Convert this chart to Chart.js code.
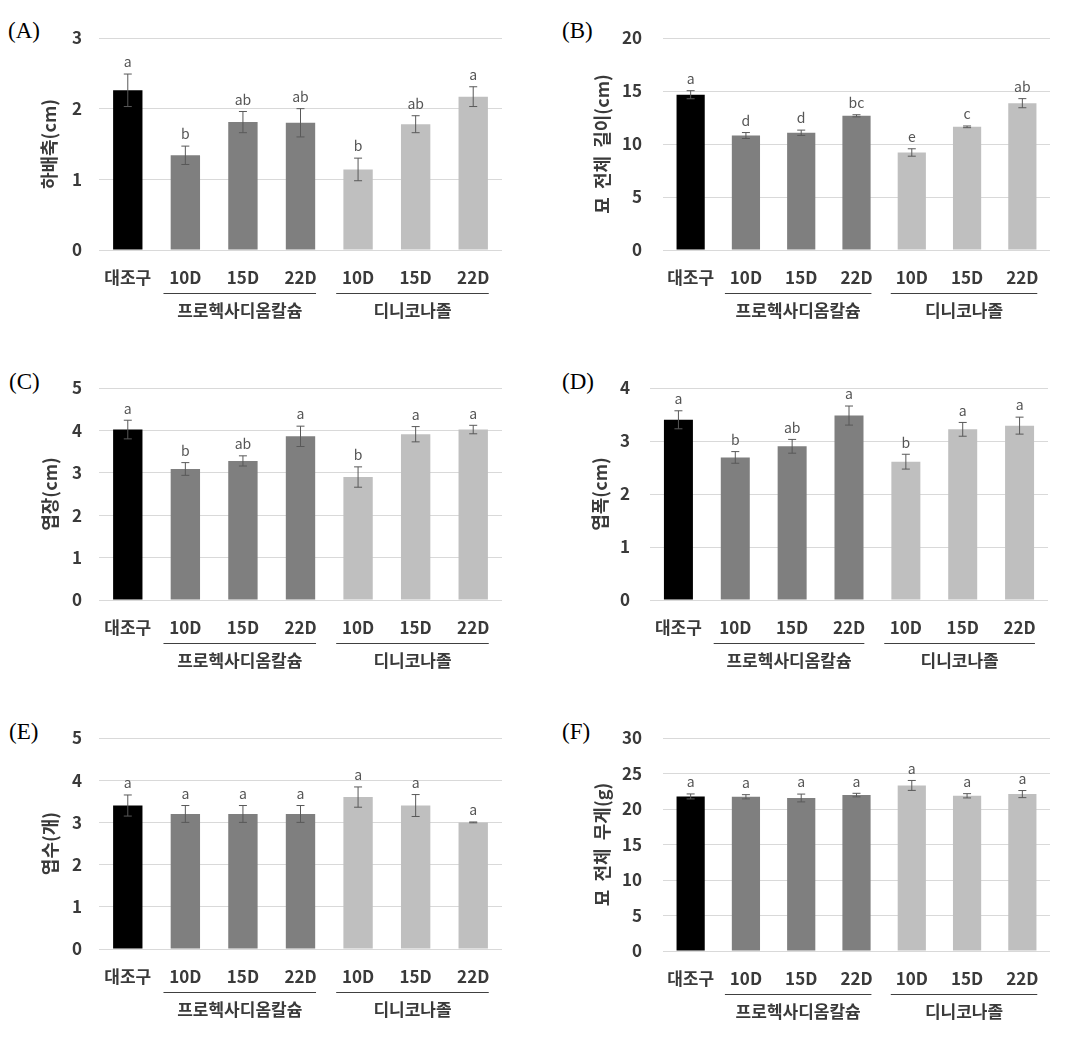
<!DOCTYPE html>
<html>
<head>
<meta charset="utf-8">
<script src="https://cdn.jsdelivr.net/npm/chart.js@4.4.1/dist/chart.umd.min.js"></script>
<style>
  body { margin: 0; background: #fff; width: 1083px; height: 1049px; position: relative; overflow: hidden; }
  .panel { position: absolute; }
  .tag { position: absolute; font-family: "Liberation Serif", "DejaVu Serif", serif; font-size: 23px; line-height: 1; color: #000; }
</style>
</head>
<body>

<div class="tag" style="left:8px;top:19px">(A)</div>
<div class="tag" style="left:562px;top:19px">(B)</div>
<div class="tag" style="left:9px;top:370px">(C)</div>
<div class="tag" style="left:562px;top:370px">(D)</div>
<div class="tag" style="left:9px;top:720px">(E)</div>
<div class="tag" style="left:562px;top:720px">(F)</div>

<div class="panel" style="left:0;top:0"><canvas id="chartA" width="520" height="340"></canvas></div>
<div class="panel" style="left:540px;top:0"><canvas id="chartB" width="543" height="340"></canvas></div>
<div class="panel" style="left:0;top:340px"><canvas id="chartC" width="520" height="340"></canvas></div>
<div class="panel" style="left:540px;top:340px"><canvas id="chartD" width="543" height="340"></canvas></div>
<div class="panel" style="left:0;top:690px"><canvas id="chartE" width="520" height="359"></canvas></div>
<div class="panel" style="left:540px;top:690px"><canvas id="chartF" width="543" height="359"></canvas></div>

<script>
// categories and treatment groups
var categories = ['대조구', '10D', '15D', '22D', '10D', '15D', '22D'];
var groupNames = ['프로헥사디옴칼슘', '디니코나졸'];
var groupFirst = [1, 4];
var groupLast = [3, 6];
var barColors = ['#000000', '#7f7f7f', '#7f7f7f', '#7f7f7f', '#bfbfbf', '#bfbfbf', '#bfbfbf'];

// (A) hypocotyl
var hypocotylMeans = [2.26, 1.34, 1.81, 1.80, 1.14, 1.78, 2.17];
var hypocotylErrors = [0.23, 0.13, 0.15, 0.20, 0.16, 0.12, 0.14];
var hypocotylLetters = ['a', 'b', 'ab', 'ab', 'b', 'ab', 'a'];
var hypocotylTicks = [0, 1, 2, 3];

// (B) total seedling length
var lengthMeans = [14.65, 10.8, 11.06, 12.66, 9.2, 11.62, 13.85];
var lengthErrors = [0.38, 0.28, 0.25, 0.1, 0.35, 0.08, 0.43];
var lengthLetters = ['a', 'd', 'd', 'bc', 'e', 'c', 'ab'];
var lengthTicks = [0, 5, 10, 15, 20];

// (C) leaf length
var leafLengthMeans = [4.02, 3.09, 3.28, 3.86, 2.90, 3.91, 4.02];
var leafLengthErrors = [0.22, 0.15, 0.12, 0.24, 0.24, 0.18, 0.1];
var leafLengthLetters = ['a', 'b', 'ab', 'a', 'b', 'a', 'a'];
var leafLengthTicks = [0, 1, 2, 3, 4, 5];

// (D) leaf width
var leafWidthMeans = [3.40, 2.69, 2.90, 3.48, 2.61, 3.22, 3.29];
var leafWidthErrors = [0.17, 0.11, 0.13, 0.18, 0.14, 0.13, 0.16];
var leafWidthLetters = ['a', 'b', 'ab', 'a', 'b', 'a', 'a'];
var leafWidthTicks = [0, 1, 2, 3, 4];

// (E) leaf number
var leafCountMeans = [3.4, 3.2, 3.2, 3.2, 3.6, 3.4, 3.0];
var leafCountErrors = [0.25, 0.2, 0.2, 0.2, 0.24, 0.26, 0.01];
var leafCountLetters = ['a', 'a', 'a', 'a', 'a', 'a', 'a'];
var leafCountTicks = [0, 1, 2, 3, 4, 5];

// (F) total seedling weight
var weightMeans = [21.77, 21.72, 21.55, 21.96, 23.32, 21.86, 22.1];
var weightErrors = [0.35, 0.3, 0.55, 0.25, 0.7, 0.3, 0.5];
var weightLetters = ['a', 'a', 'a', 'a', 'a', 'a', 'a'];
var weightTicks = [0, 5, 10, 15, 20, 25, 30];

var FONT = '"Noto Sans CJK KR", "Noto Sans", sans-serif';
var TEXT = '#3a3a3a';

var errorBarPlugin = {
    id: 'errorBars',
    afterDatasetsDraw: function (chart, args, opts) {
        var ctx = chart.ctx;
        var meta = chart.getDatasetMeta(0);
        var y = chart.scales.y;
        ctx.save();
        meta.data.forEach(function (bar, i) {
            var v = opts.means[i], e = opts.errors[i];
            var top = y.getPixelForValue(v + e);
            var bot = y.getPixelForValue(v - e);
            ctx.strokeStyle = '#595959';
            ctx.lineWidth = 1;
            ctx.beginPath();
            ctx.moveTo(bar.x, top); ctx.lineTo(bar.x, bot);
            ctx.moveTo(bar.x - 4, top); ctx.lineTo(bar.x + 4, top);
            ctx.moveTo(bar.x - 4, bot); ctx.lineTo(bar.x + 4, bot);
            ctx.stroke();
            ctx.fillStyle = '#555555';
            ctx.font = '14px ' + FONT;
            ctx.textAlign = 'center';
            ctx.textBaseline = 'bottom';
            ctx.fillText(opts.letters[i], bar.x, top - 5);
        });
        ctx.restore();
    }
};

var groupPlugin = {
    id: 'groups',
    afterDraw: function (chart) {
        var ctx = chart.ctx;
        var x = chart.scales.x;
        var w = x.getPixelForValue(1) - x.getPixelForValue(0);
        var base = chart.chartArea.bottom;
        ctx.save();
        ctx.strokeStyle = '#404040';
        ctx.lineWidth = 1;
        ctx.fillStyle = TEXT;
        ctx.font = 'bold 17px ' + FONT;
        ctx.textAlign = 'center';
        ctx.textBaseline = 'middle';
        for (var g = 0; g < groupNames.length; g++) {
            var x0 = x.getPixelForValue(groupFirst[g]) - 0.38 * w;
            var x1 = x.getPixelForValue(groupLast[g]) + 0.27 * w;
            ctx.beginPath();
            ctx.moveTo(x0, base + 43.5);
            ctx.lineTo(x1, base + 43.5);
            ctx.stroke();
            ctx.fillText(groupNames[g], (x0 + x1) / 2, base + 61);
        }
        ctx.restore();
    }
};

function makeChart(id, title, means, errors, letters, ticks, layout) {
    var ctx = document.getElementById(id).getContext('2d');
    var step = ticks[1] - ticks[0];
    return new Chart(ctx, {
        type: 'bar',
        data: {
            labels: categories,
            datasets: [{
                data: means,
                backgroundColor: barColors,
                borderWidth: 0,
                barPercentage: 0.51,
                categoryPercentage: 1.0
            }]
        },
        options: {
            responsive: false,
            animation: false,
            layout: { padding: { top: layout.top, right: layout.right, left: 0, bottom: 0 } },
            plugins: {
                legend: { display: false },
                tooltip: { enabled: false },
                errorBars: { means: means, errors: errors, letters: letters }
            },
            scales: {
                x: {
                    grid: { display: false, drawTicks: false },
                    border: { display: false },
                    ticks: { color: TEXT, font: { family: FONT, size: 17, weight: 'bold' }, padding: 17, maxRotation: 0, autoSkip: false },
                    afterFit: function (axis) { axis.height = layout.xHeight; }
                },
                y: {
                    min: ticks[0],
                    max: ticks[ticks.length - 1],
                    grid: { color: '#d9d9d9', lineWidth: 1, drawTicks: false },
                    border: { display: false },
                    ticks: { stepSize: step, color: TEXT, font: { family: FONT, size: 17, weight: 'bold' }, padding: layout.tickPad },
                    title: {
                        display: true,
                        text: title,
                        color: TEXT,
                        font: { family: FONT, size: 18, weight: 'bold' },
                        padding: { top: layout.titlePad, bottom: 0 }
                    },
                    afterFit: function (axis) { axis.width = layout.yWidth; }
                }
            }
        },
        plugins: [errorBarPlugin, groupPlugin]
    });
}

makeChart('chartA', '하배축(cm)', hypocotylMeans, hypocotylErrors, hypocotylLetters, hypocotylTicks,
    { top: 38, right: 18, xHeight: 90, yWidth: 99, tickPad: 17, titlePad: 38 });
makeChart('chartB', '묘  전체  길이(cm)', lengthMeans, lengthErrors, lengthLetters, lengthTicks,
    { top: 38, right: 33, xHeight: 90, yWidth: 123, tickPad: 21, titlePad: 51 });
makeChart('chartC', '엽장(cm)', leafLengthMeans, leafLengthErrors, leafLengthLetters, leafLengthTicks,
    { top: 48, right: 18, xHeight: 80, yWidth: 99, tickPad: 17, titlePad: 39 });
makeChart('chartD', '엽폭(cm)', leafWidthMeans, leafWidthErrors, leafWidthLetters, leafWidthTicks,
    { top: 48, right: 35, xHeight: 80, yWidth: 110, tickPad: 20, titlePad: 49 });
makeChart('chartE', '엽수(개)', leafCountMeans, leafCountErrors, leafCountLetters, leafCountTicks,
    { top: 48, right: 18, xHeight: 100, yWidth: 99, tickPad: 17, titlePad: 39 });
makeChart('chartF', '묘  전체  무게(g)', weightMeans, weightErrors, weightLetters, weightTicks,
    { top: 48, right: 33, xHeight: 98, yWidth: 123, tickPad: 21, titlePad: 51 });
</script>
</body>
</html>
